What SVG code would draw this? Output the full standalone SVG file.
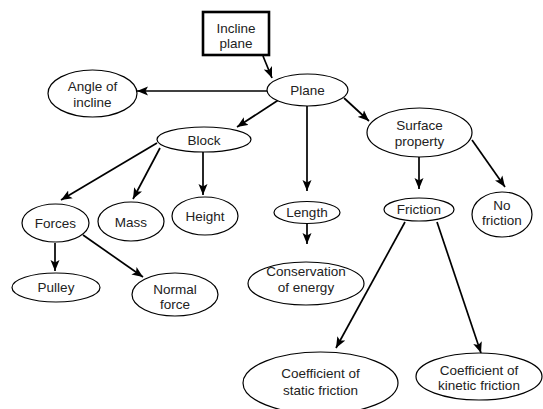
<svg xmlns="http://www.w3.org/2000/svg" width="543" height="409" viewBox="0 0 543 409">
<defs>
<style>
.n ellipse, .n rect { fill: #fff; stroke: #000; stroke-width: 1.2; }
.n rect { stroke-width: 2.6; }
.n text { font-family: "Liberation Sans", Arial, sans-serif; font-size: 13.5px; fill: #222; text-anchor: middle; }
.c line { stroke: #000; stroke-width: 1.7; marker-end: url(#ah); }
</style>
<marker id="ah" markerUnits="userSpaceOnUse" markerWidth="12" markerHeight="10" refX="11" refY="5" orient="auto">
<path d="M0,0.5 L11,5 L0,9.5 L2.5,5 Z" fill="#000"/>
</marker>
</defs>
<rect width="543" height="409" fill="#fff"/>
<g id="connectors" class="c">
<line x1="263" y1="56" x2="272" y2="78"/>
<line x1="267" y1="91" x2="137" y2="91"/>
<line x1="280" y1="99" x2="237" y2="127"/>
<line x1="344" y1="98" x2="369" y2="121"/>
<line x1="307" y1="106" x2="307" y2="191"/>
<line x1="419" y1="157" x2="419" y2="189"/>
<line x1="472" y1="140" x2="505" y2="187"/>
<line x1="157" y1="143" x2="61" y2="200"/>
<line x1="160" y1="148" x2="133" y2="199"/>
<line x1="203" y1="152" x2="203" y2="195"/>
<line x1="55" y1="243" x2="55" y2="271"/>
<line x1="83" y1="235" x2="143" y2="277"/>
<line x1="307" y1="223" x2="307" y2="244"/>
<line x1="405" y1="222" x2="336" y2="348"/>
<line x1="437" y1="222" x2="481" y2="353"/>
</g>
<g id="incline-plane" class="n"><rect x="203" y="12" width="66" height="43"/><text x="236" y="33">Incline</text><text x="236" y="48">plane</text></g>
<g id="plane" class="n"><ellipse cx="307.5" cy="90" rx="40.5" ry="16"/><text x="307.5" y="95">Plane</text></g>
<g id="angle" class="n"><ellipse cx="92.5" cy="93.5" rx="44.5" ry="23.5"/><text x="92.5" y="91">Angle of</text><text x="92.5" y="107">incline</text></g>
<g id="block" class="n"><ellipse cx="204" cy="139.5" rx="47" ry="12.5"/><text x="204" y="144.5">Block</text></g>
<g id="surface" class="n"><ellipse cx="419.5" cy="132.5" rx="52.5" ry="24.5"/><text x="419.5" y="130">Surface</text><text x="419.5" y="146">property</text></g>
<g id="forces" class="n"><ellipse cx="55.5" cy="223" rx="33.5" ry="19"/><text x="55.5" y="228">Forces</text></g>
<g id="mass" class="n"><ellipse cx="131" cy="221.5" rx="33" ry="19.5"/><text x="131" y="226.5">Mass</text></g>
<g id="height" class="n"><ellipse cx="205" cy="216" rx="33" ry="19"/><text x="205" y="221">Height</text></g>
<g id="length" class="n"><ellipse cx="307" cy="212.5" rx="33" ry="11"/><text x="307" y="217">Length</text></g>
<g id="friction" class="n"><ellipse cx="419" cy="209.5" rx="35" ry="11.5"/><text x="419" y="214">Friction</text></g>
<g id="no-friction" class="n"><ellipse cx="502" cy="214.5" rx="30" ry="22.5"/><text x="502" y="210">No</text><text x="502" y="225">friction</text></g>
<g id="pulley" class="n"><ellipse cx="56" cy="287.5" rx="44" ry="14.5"/><text x="56" y="292">Pulley</text></g>
<g id="normal-force" class="n"><ellipse cx="175" cy="294.5" rx="43" ry="21.5"/><text x="175" y="294">Normal</text><text x="175" y="309">force</text></g>
<g id="conservation" class="n"><ellipse cx="306" cy="283.5" rx="58" ry="21.5"/><text x="306" y="276">Conservation</text><text x="306" y="292">of energy</text></g>
<g id="coef-static" class="n"><ellipse cx="320.5" cy="383" rx="77.5" ry="31"/><text x="320.5" y="378">Coefficient of</text><text x="320.5" y="395">static friction</text></g>
<g id="coef-kinetic" class="n"><ellipse cx="479" cy="376.5" rx="63" ry="23.5"/><text x="479" y="375">Coefficient of</text><text x="479" y="390">kinetic friction</text></g>
</svg>
